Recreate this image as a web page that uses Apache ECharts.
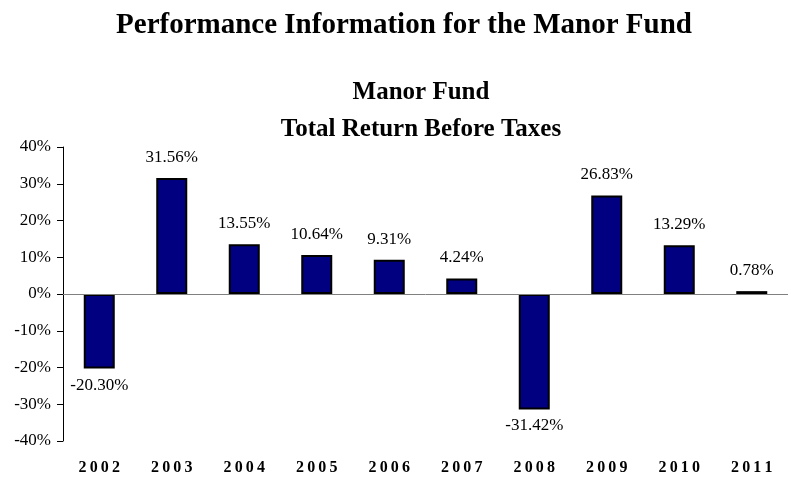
<!DOCTYPE html>
<html>
<head>
<meta charset="utf-8">
<script src="https://cdn.jsdelivr.net/npm/echarts@6/dist/echarts.min.js"></script>
<style>
  html, body { margin: 0; padding: 0; background: #fff; }
  #chart { width: 788px; height: 479px; }
</style>
</head>
<body>
<div id="chart"></div>
<script>
// 年份与收益率（%）
var years = ['2002', '2003', '2004', '2005', '2006', '2007', '2008', '2009', '2010', '2011'];
var returns = [-20.30, 31.56, 13.55, 10.64, 9.31, 4.24, -31.42, 26.83, 13.29, 0.78];
var yTicks = [-40, -30, -20, -10, 0, 10, 20, 30, 40];

var serif = 'Liberation Serif';
var chart = echarts.init(document.getElementById('chart'));

var barData = returns.map(function (v) {
    return {
        value: v,
        label: { position: v < 0 ? 'bottom' : 'top', distance: v < 0 ? 8 : 12 }
    };
});

var option = {
    animation: false,
    title: [{
        text: 'Performance Information for the Manor Fund',
        left: 399, top: 6, textAlign: 'center',
        textStyle: { fontFamily: serif, fontWeight: 'bold', fontSize: 29, color: '#000' }
    }, {
        text: 'Manor Fund\nTotal Return Before Taxes',
        left: 416, top: 69, textAlign: 'center',
        textStyle: { fontFamily: serif, fontWeight: 'bold', fontSize: 25, lineHeight: 37, color: '#000' }
    }],
    grid: { left: 63, top: 147, width: 733, height: 294, containLabel: false },
    xAxis: {
        type: 'category',
        data: years,
        axisLine: { show: false, onZero: false },
        axisTick: { show: false },
        axisLabel: {
            margin: 19,
            fontFamily: serif, fontWeight: 'bold', fontSize: 16, color: '#000',
            formatter: function (s) { return s.split('').join('\u2009'); }
        }
    },
    yAxis: {
        type: 'value',
        min: yTicks[0], max: yTicks[yTicks.length - 1], interval: 10,
        axisLine: { show: true, lineStyle: { color: '#000', width: 1 } },
        axisTick: { show: true, length: 6, lineStyle: { color: '#000' } },
        splitLine: { show: false },
        axisLabel: {
            margin: 12,
            fontFamily: serif, fontSize: 17, color: '#000',
            formatter: '{value}%'
        }
    },
    series: [{
        type: 'bar',
        data: barData,
        barWidth: 31,
        itemStyle: { color: '#000080', borderColor: '#000', borderWidth: 2 },
        label: {
            show: true,
            fontFamily: serif, fontSize: 17, color: '#000',
            formatter: function (p) { return p.value.toFixed(2) + '%'; }
        },
        markLine: {
            silent: true,
            symbol: 'none',
            label: { show: false },
            lineStyle: { color: '#808080', width: 1, type: 'solid' },
            data: [{ yAxis: 0 }]
        }
    }]
};

chart.setOption(option);
</script>
</body>
</html>
